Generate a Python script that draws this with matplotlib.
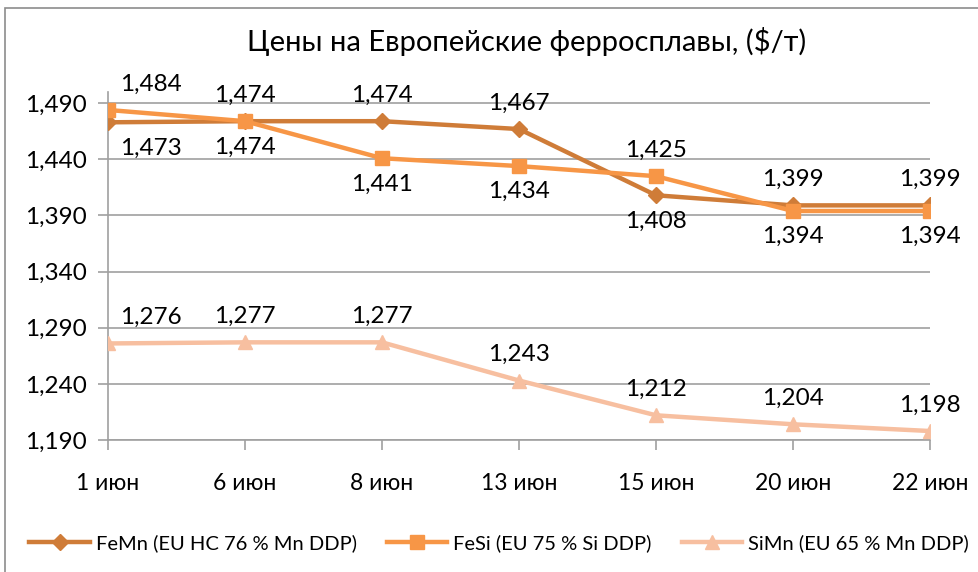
import matplotlib
matplotlib.use("Agg")
import matplotlib.pyplot as plt
from matplotlib.patches import Rectangle

dates = ["1 июн", "6 июн", "8 июн", "13 июн", "15 июн", "20 июн", "22 июн"]
femn = [1473, 1474, 1474, 1467, 1408, 1399, 1399]
fesi = [1484, 1474, 1441, 1434, 1425, 1394, 1394]
simn = [1276, 1277, 1277, 1243, 1212, 1204, 1198]

# label placement: +1 above the point, -1 below
femn_side = [-1, 1, 1, 1, -1, 1, 1]
fesi_side = [1, -1, -1, -1, 1, -1, -1]
simn_side = [1, 1, 1, 1, 1, 1, 1]

y_ticks = [1190, 1240, 1290, 1340, 1390, 1440, 1490]
title = "Цены на Европейские ферросплавы, ($/т)"

plt.rcParams["font.family"] = ["Lato", "DejaVu Sans"]

fig = plt.figure(figsize=(9.79, 5.72), dpi=100)
fig.patches.append(Rectangle((5 / 979, -0.1), 1.2, 1 - 8 / 572 + 0.1,
                             transform=fig.transFigure, fill=False,
                             edgecolor="#8c8c8c", linewidth=1.2))
ax = fig.add_axes([108 / 979, 132 / 572, 822 / 979, 348 / 572])

x = list(range(len(dates)))
series = [
    ("FeMn (EU HC 76 % Mn DDP)", femn, femn_side, "#CF7C38", "D", 8),
    ("FeSi (EU 75 % Si DDP)", fesi, fesi_side, "#F79646", "s", 10),
    ("SiMn (EU 65 % Mn DDP)", simn, simn_side, "#F7BFA0", "^", 10),
]
for name, vals, sides, color, marker, ms in series:
    ax.plot(x, vals, color=color, linewidth=3.2, marker=marker,
            markersize=ms, label=name, zorder=3)
    for i, (v, s) in enumerate(zip(vals, sides)):
        dx = 31 if i == 0 else 0
        ax.annotate(f"{v:,}", (i, v), textcoords="offset points",
                    xytext=(dx, 18.5 * s), ha="center", va="center",
                    fontsize=17.5, color="black", zorder=4)

ax.set_xlim(0, len(dates) - 1)
ax.set_ylim(1190, 1500)
ax.set_yticks(y_ticks)
ax.set_yticklabels([f"{t:,}" for t in y_ticks], fontsize=17.5)
ax.set_xticks(x)
ax.set_xticklabels(dates, fontsize=16.5)
ax.grid(axis="y", color="#a0a0a0", linewidth=1.2)
ax.set_axisbelow(True)
for side in ["top", "right"]:
    ax.spines[side].set_visible(False)
for side in ["left", "bottom"]:
    ax.spines[side].set_color("#a0a0a0")
    ax.spines[side].set_linewidth(1.2)
ax.tick_params(axis="both", color="#a0a0a0", width=1.2, length=7)
ax.tick_params(axis="x", pad=17)
ax.tick_params(axis="y", pad=8)

fig.text(527 / 979, 1 - 42 / 572, title, ha="center", va="center", fontsize=21)
fig.legend(loc="center", bbox_to_anchor=(0.51, 1 - 543 / 572), ncol=3,
           frameon=False, fontsize=14.5, handlelength=3, columnspacing=1.5,
           handletextpad=0.3)

fig.savefig("out.png", dpi=100)
